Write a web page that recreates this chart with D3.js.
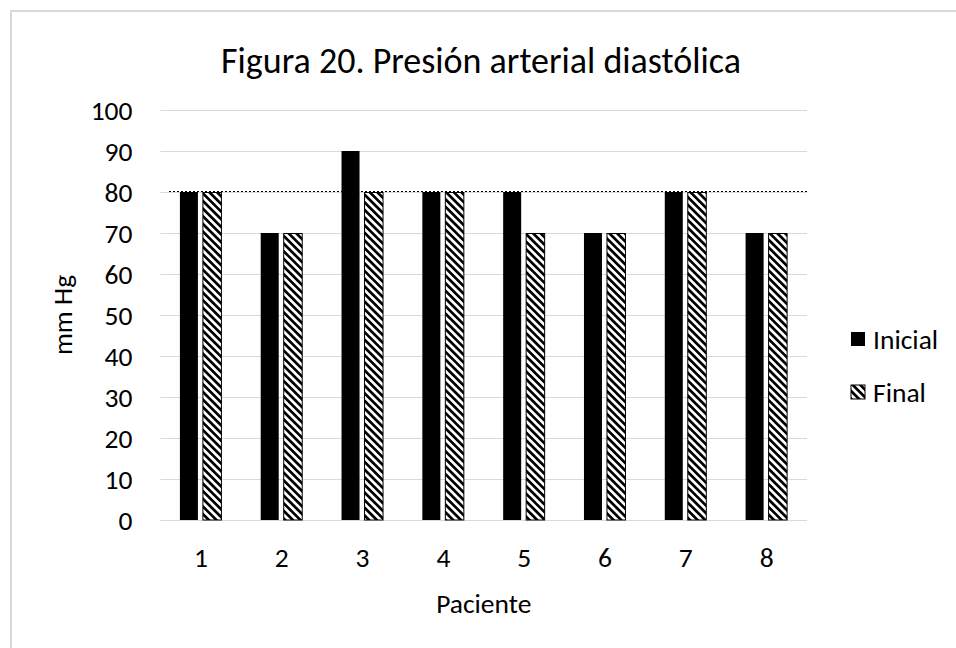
<!DOCTYPE html>
<html><head><meta charset="utf-8">
<script src="https://cdn.jsdelivr.net/npm/d3@7"></script>
<style>
html,body{margin:0;padding:0;background:#fff;}
svg{display:block;}
text{font-family:Carlito,Calibri,Lato,sans-serif;fill:#000;}
</style></head>
<body>
<svg id="chart" width="956" height="648"></svg>
<script>
const categories = ["1","2","3","4","5","6","7","8"];
const inicial = [80,70,90,80,80,70,80,70];
const final = [80,70,80,80,70,70,80,70];
const seriesNames = ["Inicial","Final"];
const yTicks = [0,10,20,30,40,50,60,70,80,90,100];
const referenceLine = [80];
const title = "Figura 20. Presión arterial diastólica";
const xTitle = "Paciente";
const yTitle = "mm Hg";

const svg = d3.select("#chart");
const W = 956, H = 648;
const plot = {left:160.5, right:807, top:110, bottom:520};
const fs = "27.5px";

const defs = svg.append("defs");
const pat = defs.append("pattern").attr("id","diag")
  .attr("patternUnits","userSpaceOnUse").attr("width",5.4).attr("height",5.4)
  .attr("patternTransform","rotate(-45)");
pat.append("rect").attr("width",5.4).attr("height",5.4).attr("fill","#fff");
pat.append("rect").attr("width",2.7).attr("height",5.4).attr("fill","#000");

// chart border
svg.append("rect").attr("x",11).attr("y",11).attr("width",W+20).attr("height",H+20)
  .attr("fill","#fff").attr("stroke","#d9d9d9").attr("stroke-width",2);

const x = d3.scaleBand().domain(categories).range([plot.left, plot.right]);
const y = d3.scaleLinear().domain([0,100]).range([plot.bottom, plot.top]);

// gridlines
svg.append("g").selectAll("line").data(yTicks).join("line")
  .attr("x1",plot.left).attr("x2",plot.right)
  .attr("y1",d=>Math.round(y(d))+0.5).attr("y2",d=>Math.round(y(d))+0.5)
  .attr("stroke","#d9d9d9").attr("stroke-width",1);

// y axis labels
const yAxis = d3.axisLeft(y).tickValues(yTicks).tickSize(0).tickPadding(28);
const gy = svg.append("g").attr("transform",`translate(${plot.left},0)`).call(yAxis);
gy.select(".domain").remove();
gy.selectAll("text").style("font-size",fs).attr("dy","0.36em");

// x axis
const xAxis = d3.axisBottom(x).tickSize(0).tickPadding(29);
const gx = svg.append("g").attr("transform",`translate(0,${plot.bottom})`).call(xAxis);
gx.select(".domain").remove();
gx.selectAll("text").style("font-size",fs).attr("dy","0.65em");
svg.append("line").attr("x1",plot.left).attr("x2",plot.right)
  .attr("y1",Math.round(y(0))+0.5).attr("y2",Math.round(y(0))+0.5)
  .attr("stroke","#d9d9d9").attr("stroke-width",1);

// bars
const gb = svg.append("g");
gb.selectAll("rect.ini").data(inicial).join("rect").attr("class","ini")
  .attr("x",(d,i)=>x(categories[i])+x.bandwidth()/2-21)
  .attr("width",18)
  .attr("y",d=>y(d)).attr("height",d=>y(0)-y(d))
  .attr("fill","#000");
gb.selectAll("rect.fin").data(final).join("rect").attr("class","fin")
  .attr("x",(d,i)=>x(categories[i])+x.bandwidth()/2+2)
  .attr("width",18.5)
  .attr("y",d=>y(d)+0.5).attr("height",d=>y(0)-y(d)-0.5)
  .attr("fill","url(#diag)").attr("stroke","#000").attr("stroke-width",1);

// reference dotted line
svg.append("g").selectAll("line").data(referenceLine).join("line")
  .attr("x1",169).attr("x2",plot.right)
  .attr("y1",d=>Math.round(y(d))-0.5).attr("y2",d=>Math.round(y(d))-0.5)
  .attr("stroke","#000").attr("stroke-width",1).attr("stroke-dasharray","2,2");

// title
svg.append("text").attr("x",481).attr("y",73).attr("text-anchor","middle")
  .style("font-size","36px").text(title);
// axis titles
svg.append("text").attr("x",(plot.left+plot.right)/2).attr("y",613).attr("text-anchor","middle")
  .style("font-size",fs).text(xTitle);
svg.append("text").attr("transform",`translate(72,${(plot.top+plot.bottom)/2}) rotate(-90)`)
  .attr("text-anchor","middle").style("font-size",fs).text(yTitle);

// legend
const lg = svg.append("g");
const ly = [339, 392];
seriesNames.forEach((n,i)=>{
  lg.append("rect").attr("x",851).attr("y",ly[i]-7).attr("width",14).attr("height",14)
    .attr("fill", i===0?"#000":"url(#diag)")
    .attr("stroke", i===0?"none":"#000").attr("stroke-width",1);
  lg.append("text").attr("x",873).attr("y",ly[i]).attr("dy","0.36em")
    .style("font-size",fs).text(n);
});
</script>
</body></html>
